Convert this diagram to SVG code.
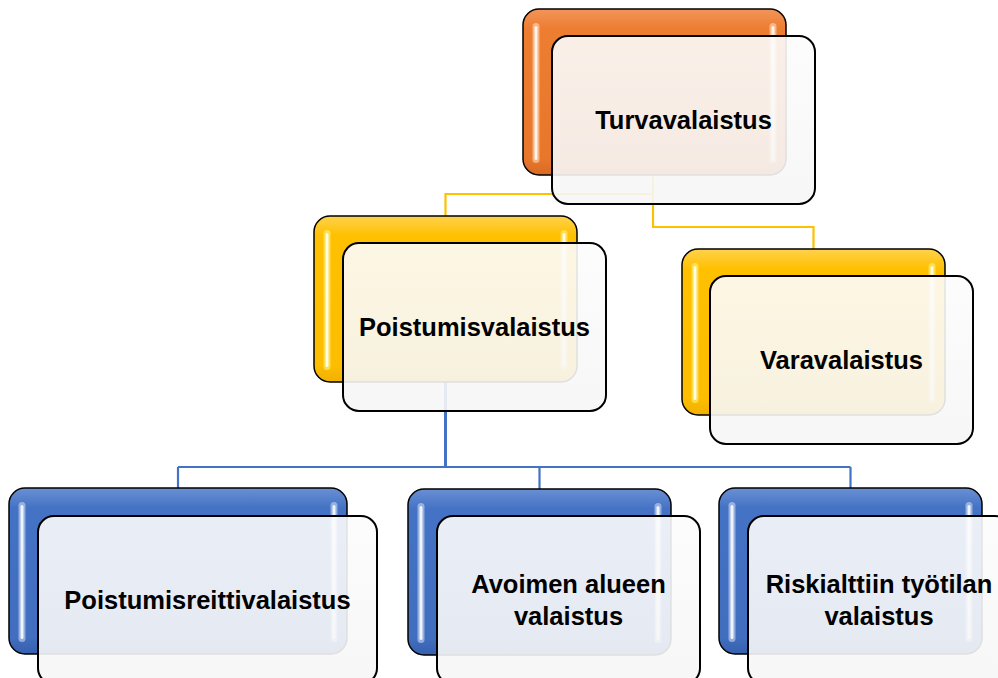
<svg xmlns="http://www.w3.org/2000/svg" width="998" height="678" viewBox="0 0 998 678">
<defs>
<linearGradient id="gO" x1="0" y1="0" x2="0" y2="1">
<stop offset="0" stop-color="#F2955A"/><stop offset="0.12" stop-color="#ED7D31"/><stop offset="0.9" stop-color="#E8772C"/><stop offset="1" stop-color="#D96A22"/>
</linearGradient>
<linearGradient id="gY" x1="0" y1="0" x2="0" y2="1">
<stop offset="0" stop-color="#FFD24D"/><stop offset="0.12" stop-color="#FFC000"/><stop offset="0.9" stop-color="#FDBD00"/><stop offset="1" stop-color="#F0B000"/>
</linearGradient>
<linearGradient id="gB" x1="0" y1="0" x2="0" y2="1">
<stop offset="0" stop-color="#6A90D4"/><stop offset="0.12" stop-color="#4472C4"/><stop offset="0.9" stop-color="#416EBF"/><stop offset="1" stop-color="#3760AE"/>
</linearGradient>
<linearGradient id="gF" x1="0" y1="0" x2="0" y2="1">
<stop offset="0" stop-color="#FCFCFC"/><stop offset="1" stop-color="#F6F6F6"/>
</linearGradient>
</defs>
<style>
.back{stroke:#000;stroke-width:1.5}
.front{fill:url(#gF);fill-opacity:0.9;stroke:#000;stroke-width:2}
.hl{fill-opacity:0.6}
.o .hl{fill:#FFD9B8}
.y .hl{fill:#FFF27A}
.b .hl{fill:#C9D9F2}
.hli{fill:#FFFFFF;fill-opacity:0.85}
.lbl{font-family:"Liberation Sans",Arial,sans-serif;font-weight:bold;font-size:25.5px;fill:#000;text-anchor:middle}
.cy{fill:none;stroke:#FFC000;stroke-width:2.2}
.cb{fill:none;stroke:#4472C4;stroke-width:2.2}
</style>
<rect width="998" height="678" fill="#FFFFFF"/>
<g id="connectors">
<path class="cy" d="M653,175 V194 H445.5 V216"/>
<path class="cy" d="M653,194 V227 H813.5 V249"/>
<path class="cb" d="M445.5,382 V467" style="stroke-width:3"/>
<path class="cb" d="M178,467 H850.5 M178,467 V488 M539.5,467 V489 M850.5,467 V488"/>
</g>
<g id="n-turvavalaistus" class="o">
<rect class="back" x="523" y="9" width="263" height="166" rx="16" fill="url(#gO)"/>
<rect class="hl" x="532.5" y="23" width="7" height="140" rx="3.5"/>
<rect class="hli" x="534.5" y="26" width="3" height="134" rx="1.5"/>
<rect class="hl" x="769.5" y="23" width="7" height="140" rx="3.5"/>
<rect class="hli" x="771.5" y="26" width="3" height="134" rx="1.5"/>
<rect class="front" x="552" y="36" width="263" height="168" rx="16"/>
<text class="lbl" x="683.5" y="129">Turvavalaistus</text>
</g>
<g id="n-poistumisvalaistus" class="y">
<rect class="back" x="314" y="216" width="263" height="166" rx="16" fill="url(#gY)"/>
<rect class="hl" x="323.5" y="230" width="7" height="140" rx="3.5"/>
<rect class="hli" x="325.5" y="233" width="3" height="134" rx="1.5"/>
<rect class="hl" x="560.5" y="230" width="7" height="140" rx="3.5"/>
<rect class="hli" x="562.5" y="233" width="3" height="134" rx="1.5"/>
<rect class="front" x="343" y="243" width="263" height="168" rx="16"/>
<text class="lbl" x="474.5" y="336">Poistumisvalaistus</text>
</g>
<g id="n-varavalaistus" class="y">
<rect class="back" x="682" y="249" width="263" height="166" rx="16" fill="url(#gY)"/>
<rect class="hl" x="691.5" y="263" width="7" height="140" rx="3.5"/>
<rect class="hli" x="693.5" y="266" width="3" height="134" rx="1.5"/>
<rect class="hl" x="928.5" y="263" width="7" height="140" rx="3.5"/>
<rect class="hli" x="930.5" y="266" width="3" height="134" rx="1.5"/>
<rect class="front" x="710" y="276" width="263" height="168" rx="16"/>
<text class="lbl" x="841.5" y="369">Varavalaistus</text>
</g>
<g id="n-poistumisreittivalaistus" class="b">
<rect class="back" x="9" y="488" width="338" height="166" rx="16" fill="url(#gB)"/>
<rect class="hl" x="18.5" y="502" width="7" height="140" rx="3.5"/>
<rect class="hli" x="20.5" y="505" width="3" height="134" rx="1.5"/>
<rect class="hl" x="330.5" y="502" width="7" height="140" rx="3.5"/>
<rect class="hli" x="332.5" y="505" width="3" height="134" rx="1.5"/>
<rect class="front" x="38" y="516" width="339" height="168" rx="16"/>
<text class="lbl" x="207.5" y="609">Poistumisreittivalaistus</text>
</g>
<g id="n-avoimen" class="b">
<rect class="back" x="408" y="489" width="263" height="166" rx="16" fill="url(#gB)"/>
<rect class="hl" x="417.5" y="503" width="7" height="140" rx="3.5"/>
<rect class="hli" x="419.5" y="506" width="3" height="134" rx="1.5"/>
<rect class="hl" x="654.5" y="503" width="7" height="140" rx="3.5"/>
<rect class="hli" x="656.5" y="506" width="3" height="134" rx="1.5"/>
<rect class="front" x="437" y="516" width="263" height="168" rx="16"/>
<text class="lbl" x="568.5" y="593">Avoimen alueen</text>
<text class="lbl" x="568.5" y="625">valaistus</text>
</g>
<g id="n-riskialttiin" class="b">
<rect class="back" x="719" y="488" width="263" height="166" rx="16" fill="url(#gB)"/>
<rect class="hl" x="728.5" y="502" width="7" height="140" rx="3.5"/>
<rect class="hli" x="730.5" y="505" width="3" height="134" rx="1.5"/>
<rect class="hl" x="965.5" y="502" width="7" height="140" rx="3.5"/>
<rect class="hli" x="967.5" y="505" width="3" height="134" rx="1.5"/>
<rect class="front" x="748" y="516" width="263" height="168" rx="16"/>
<text class="lbl" x="879" y="593">Riskialttiin työtilan</text>
<text class="lbl" x="879" y="625">valaistus</text>
</g>
</svg>
